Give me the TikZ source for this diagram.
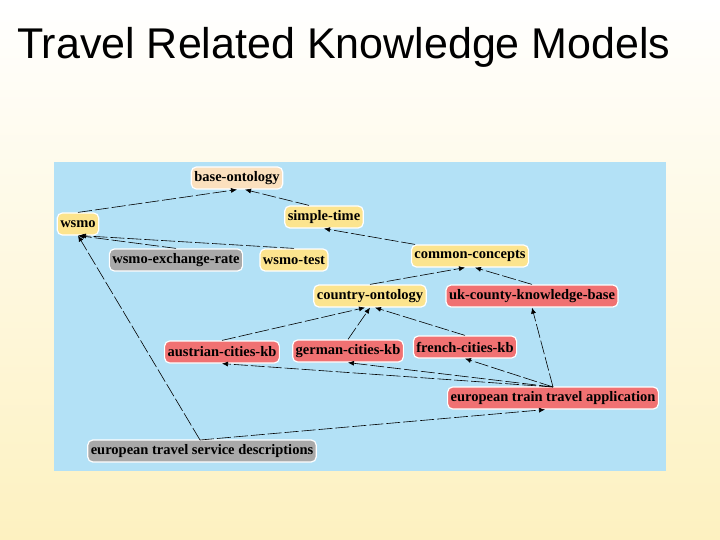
\documentclass[tikz,border=0pt]{standalone}
\usepackage{fontspec}
\setmainfont{Liberation Serif}
\newfontfamily\titlefont{Liberation Sans}
\usetikzlibrary{arrows.meta}
\definecolor{panel}{HTML}{B3E1F6}
\definecolor{ylw}{HTML}{FCE48E}
\definecolor{peach}{HTML}{FBE0BE}
\definecolor{redn}{HTML}{F07172}
\definecolor{grayn}{HTML}{A9A9A9}
\definecolor{bgbot}{HTML}{FDF1C0}
\tikzset{
  kn/.style={draw=white, line width=1.2pt, rounded corners=5pt, font=\bfseries\fontsize{14.5}{16}\selectfont, minimum height=22pt, inner sep=3pt, text=black},
  yn/.style={kn, fill=ylw},
  pn/.style={kn, fill=peach},
  rn/.style={kn, fill=redn},
  gn/.style={kn, fill=grayn},
  ed/.style={draw=black, line width=0.6pt, dash pattern=on 14pt off 3pt, -{Latex[length=6pt,width=5pt]}}
}
\begin{document}
\begin{tikzpicture}[x=1pt,y=-1pt]
\useasboundingbox (0,0) rectangle (720,540);
\shade[top color=white, bottom color=bgbot] (0,0) rectangle (720,540);
\node[font=\titlefont\fontsize{43}{48}\selectfont, anchor=west, inner sep=0] (title) at (17,47) {Travel Related Knowledge Models};
\fill[panel] (54,162) rectangle (666,471);
\node[pn] (base) at (237,178) {base-ontology};
\node[yn] (wsmo) at (78,224) {wsmo};
\node[yn] (st) at (324,217) {simple-time};
\node[gn] (wer) at (176,260) {wsmo-exchange-rate};
\node[yn] (wt) at (294,260) {wsmo-test};
\node[yn] (cc) at (470,256) {common-concepts};
\node[yn] (co) at (370,296) {country-ontology};
\node[rn] (uk) at (532,296) {uk-county-knowledge-base};
\node[rn] (aus) at (222,352) {austrian-cities-kb};
\node[rn] (ger) at (348,351) {german-cities-kb};
\node[rn] (fr) at (465,347) {french-cities-kb};
\node[rn] (et) at (553,398) {european train travel application};
\node[gn] (ets) at (202,451) {european travel service descriptions};
\coordinate (etT) at (553,387);
\coordinate (etsT) at (200,440);
\draw[ed] (wsmo.north) -- (base.south);
\draw[ed] ([xshift=-15pt]st.north) -- ([xshift=8pt]base.south);
\draw[ed] ([xshift=-55pt]cc.north) -- (st.south);
\draw[ed] (wt.north) -- ([xshift=2pt]wsmo.south);
\draw[ed] (wer.north) -- (wsmo.south);
\draw[ed] (co.north) -- ([xshift=-5pt]cc.south);
\draw[ed] (uk.north) -- ([xshift=5pt]cc.south);
\draw[ed] (aus.north) -- ([xshift=-5pt]co.south);
\draw[ed] (ger.north) -- (co.south);
\draw[ed] (fr.north) -- ([xshift=5pt]co.south);
\draw[ed] (etT) -- (uk.south);
\draw[ed] (etT) -- (fr.south);
\draw[ed] (etT) -- (ger.south);
\draw[ed] (etT) -- (aus.south);
\draw[ed] (etsT) -- ([xshift=-8pt]et.south);
\draw[ed] (etsT) -- (wsmo.south);
\end{tikzpicture}
\end{document}
